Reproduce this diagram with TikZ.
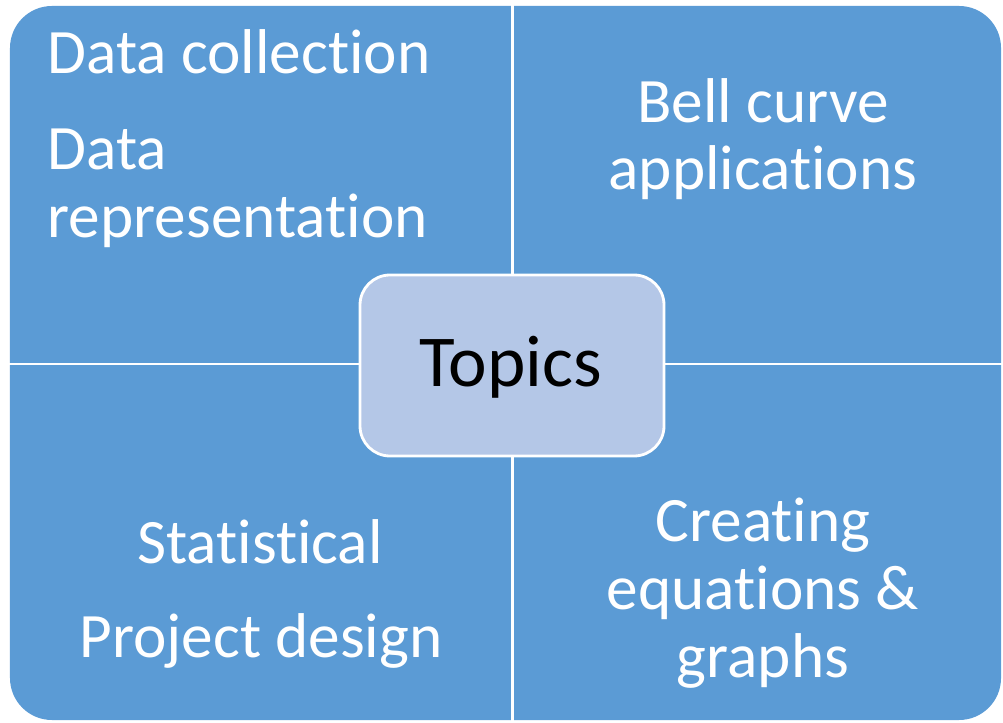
\documentclass[tikz,border=0pt]{standalone}
\usepackage{fontspec}
\setmainfont{Carlito}[Ligatures=NoCommon]
\usepackage{tikz}

\definecolor{quadblue}{HTML}{5B9BD5}
\definecolor{centreblue}{HTML}{B4C7E7}

\tikzset{
	frame/.style={shape=rectangle, rounded corners=0.42cm, fill=quadblue, minimum width=9.91cm, minimum height=7.14cm, inner sep=0},
	centre/.style={shape=rectangle, rounded corners=0.3cm, fill=centreblue, draw=white, line width=0.8pt, minimum width=3.04cm, minimum height=1.81cm, inner sep=0},
	label/.style={text=white, inner sep=0, font=\fontsize{18}{19.3}\selectfont},
	divider/.style={draw=white, line width=0.85pt}
}

\begin{document}
\begin{tikzpicture}
	\useasboundingbox (0, 0) rectangle (10.03, 7.22);
	
	\node[frame] (q) at (5.055, 3.59) {};
	
	\path[divider] (q.north -| 5.12, 0) edge (q.south -| 5.12, 0);
	\path[divider] (q.west |- 0, 3.58) edge (q.east |- 0, 3.58);
	
	\node[centre] (topics) at (5.12, 3.565) {};
	\node[anchor=base, inner sep=0, font=\fontsize{20.8}{22}\selectfont] (t) at (5.11, 3.35) {Topics};
	
	\node[label, anchor=base west] (coll) at (0.47, 6.48) {Data collection};
	\node[label, anchor=base west, text width=4.5cm, align=left] (repr) at (0.47, 5.52) {Data\\representation};
	\node[label, anchor=base, align=center] (bell) at (7.63, 5.32) {Bell curve\\applications};
	\node[label, anchor=base] (stat) at (2.60, 1.59) {Statistical};
	\node[label, anchor=base] (proj) at (2.61, 0.65) {Project design};
	\node[label, anchor=base, align=center] (eqn) at (7.63, 0.45) {Creating\\equations \&\\graphs};
\end{tikzpicture}
\end{document}
